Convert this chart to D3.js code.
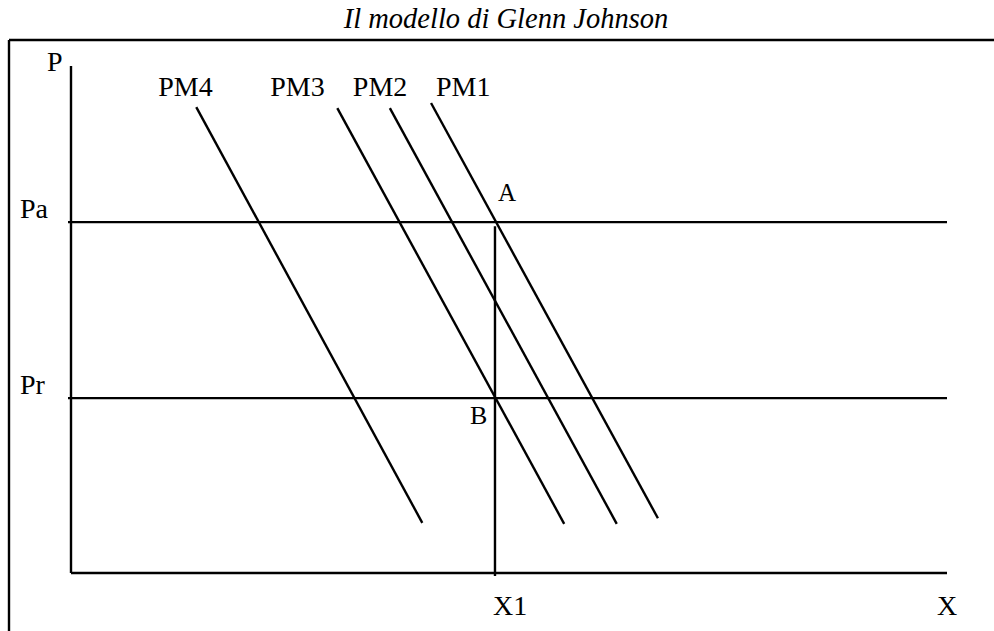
<!DOCTYPE html>
<html>
<head>
<meta charset="utf-8">
<script src="https://cdn.jsdelivr.net/npm/d3@7"></script>
<style>
  html, body { margin: 0; padding: 0; background: #fff; }
  svg { display: block; }
</style>
</head>
<body>
<svg id="chart" width="994" height="631"></svg>
<script>
// Glenn Johnson model: price levels and marginal-product curves
const title = "Il modello di Glenn Johnson";

// price levels (acquisition price Pa, resale price Pr)
const priceNames = ["Pa", "Pr"];
const priceValues = [69.2, 34.5];

// quantity at the kinks
const quantityName = "X1";
const quantityValue = 48.4;

// marginal-product curves: name, start (x, y), end (x, y)
const curveNames = ["PM1", "PM2", "PM3", "PM4"];
const curveX0 = [41.1, 36.4, 30.4, 14.3];
const curveY0 = [92.7, 91.7, 91.7, 91.9];
const curveX1 = [67.0, 62.3, 56.3, 40.1];
const curveY1 = [10.8, 9.7, 9.7, 9.9];

// point labels
const pointNames = ["A", "B"];

const SERIF = "'Liberation Serif', 'Times New Roman', Times, serif";
const svg = d3.select("#chart");
const x = d3.scaleLinear().domain([0, 100]).range([71, 947]);
const y = d3.scaleLinear().domain([0, 100]).range([573, 66]);

// outer frame (top and left edges)
svg.append("line").attr("x1", 9).attr("x2", 994).attr("y1", 40).attr("y2", 40)
  .attr("stroke", "#000").attr("stroke-width", 2.4);
svg.append("line").attr("x1", 9).attr("x2", 9).attr("y1", 40).attr("y2", 631)
  .attr("stroke", "#000").attr("stroke-width", 2.4);

const label = (tx, ty, s, size) => svg.append("text")
  .attr("x", tx).attr("y", ty).attr("font-family", SERIF)
  .attr("font-size", size).attr("fill", "#000").text(s);

// title
label(506, 28, title, 28.5).attr("text-anchor", "middle").attr("font-style", "italic");

const g = svg.append("g").attr("stroke", "#000").attr("stroke-width", 2.4).attr("fill", "none");

// axes
g.append("line").attr("x1", x(0)).attr("x2", x(0)).attr("y1", y(100)).attr("y2", y(0));
g.append("line").attr("x1", x(0)).attr("x2", x(100)).attr("y1", y(0)).attr("y2", y(0));

// price levels
g.selectAll("line.price").data(priceValues).join("line").attr("class", "price")
  .attr("x1", x(0) - 3).attr("x2", x(100))
  .attr("y1", d => y(d)).attr("y2", d => y(d));

// vertical at X1
g.append("line").attr("x1", x(quantityValue)).attr("x2", x(quantityValue))
  .attr("y1", y(priceValues[0]) + 4).attr("y2", y(0) + 3);

// marginal-product curves
g.selectAll("line.pm").data(curveNames).join("line").attr("class", "pm")
  .attr("x1", (d, i) => x(curveX0[i])).attr("y1", (d, i) => y(curveY0[i]))
  .attr("x2", (d, i) => x(curveX1[i])).attr("y2", (d, i) => y(curveY1[i]));

const fs = 28;
// curve labels sit above the curves, shifted left of each start
const labelShift = [5, -37, -67, -38];
curveNames.forEach((d, i) => label(x(curveX0[i]) + labelShift[i], 96, d, fs));

// axis names
label(47, 71, "P", fs);
label(937, 615, "X", fs);
label(x(quantityValue) - 2, 615, quantityName, fs);

// price names
priceNames.forEach((d, i) => label(20, y(priceValues[i]) - 4, d, fs));

// point labels A and B
label(x(quantityValue) + 3, y(priceValues[0]) - 21, pointNames[0], 25);
label(x(quantityValue) - 25, y(priceValues[1]) + 26, pointNames[1], 26);
</script>
</body>
</html>
